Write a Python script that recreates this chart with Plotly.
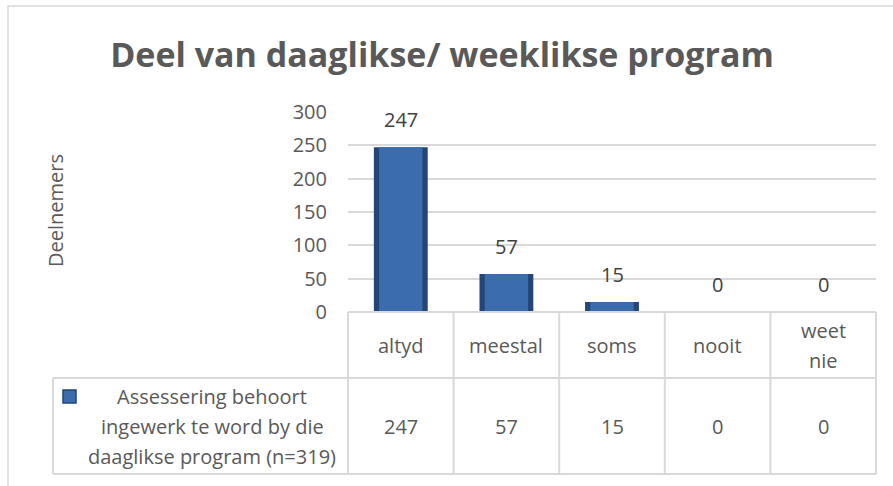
import plotly.graph_objects as go

W, H = 893, 486

categories = ["altyd", "meestal", "soms", "nooit", "weet nie"]
header_labels = [["altyd"], ["meestal"], ["soms"], ["nooit"], ["weet", "nie"]]
values = [247, 57, 15, 0, 0]
series_lines = ["Assessering behoort", "ingewerk te word by die", "daaglikse program (n=319)"]
y_ticks = [0, 50, 100, 150, 200, 250, 300]

TEXT = "#595959"
GRID = "#D9D9D9"
FONT = "Open Sans"
LINE_GAP = 30  # Excel line spacing in px

# pixel layout of the Excel-style chart
plot_l, plot_r = 348, 876
plot_t, plot_b = 112, 312
row_mid, table_b = 378, 474
legend_l = 53


def px(x):
    return x / W


def py(y):
    return 1 - y / H


def text_block(lines, x, xref, center_y):
    """One annotation per line so the line spacing follows Excel."""
    out = []
    top = center_y - LINE_GAP * (len(lines) - 1) / 2
    for k, txt in enumerate(lines):
        out.append(dict(
            x=x, y=py(top + k * LINE_GAP), xref=xref, yref="paper", text=txt,
            showarrow=False, xanchor="center", yanchor="middle",
            font=dict(size=20, color=TEXT, family=FONT),
        ))
    return out


fig = go.Figure()
fig.add_trace(go.Bar(
    x=categories, y=values, width=0.51,
    marker=dict(color="#234676", line=dict(width=0)),
    hoverinfo="skip", showlegend=False,
))
fig.add_trace(go.Bar(
    x=categories, y=values, width=0.41,
    marker=dict(color="#3B6CAE", line=dict(width=0)),
    name="Deelnemers", showlegend=False,
))

annotations = []
for cat, val in zip(categories, values):
    annotations.append(dict(
        x=cat, y=val, xref="x", yref="y", text=str(val), showarrow=False,
        xanchor="center", yanchor="bottom", yshift=12,
        font=dict(size=20, color="#404040", family=FONT),
    ))

# data table below the plot
for cat, head, val in zip(categories, header_labels, values):
    annotations += text_block(head, cat, "x", (plot_b + row_mid) / 2)
    annotations += text_block([str(val)], cat, "x", (row_mid + table_b) / 2)

annotations += text_block(series_lines, px(212), "paper", 426)
annotations.append(dict(
    x=px(55), y=py(211), xref="paper", yref="paper", text="Deelnemers",
    textangle=-90, showarrow=False, xanchor="center", yanchor="middle",
    font=dict(size=20, color=TEXT, family=FONT),
))

line = dict(color=GRID, width=2)
shapes = [
    # outer chart border
    dict(type="rect", xref="paper", yref="paper", x0=px(8), x1=px(905),
         y0=py(6), y1=py(500), line=dict(color=GRID, width=1.5)),
    # table grid
    dict(type="line", xref="paper", yref="paper", x0=px(plot_l), x1=px(plot_r),
         y0=py(plot_b), y1=py(plot_b), line=line),
    dict(type="line", xref="paper", yref="paper", x0=px(legend_l), x1=px(plot_r),
         y0=py(row_mid), y1=py(row_mid), line=line),
    dict(type="line", xref="paper", yref="paper", x0=px(legend_l), x1=px(plot_r),
         y0=py(table_b), y1=py(table_b), line=line),
    dict(type="line", xref="paper", yref="paper", x0=px(legend_l), x1=px(legend_l),
         y0=py(row_mid), y1=py(table_b), line=line),
    # legend key
    dict(type="rect", xref="paper", yref="paper", x0=px(63), x1=px(76),
         y0=py(390), y1=py(403), fillcolor="#3B6CAE", line=dict(color="#234676", width=1.5)),
]
n = len(categories)
for i in range(n + 1):
    xx = plot_l + (plot_r - plot_l) * i / n
    shapes.append(dict(type="line", xref="paper", yref="paper", x0=px(xx), x1=px(xx),
                       y0=py(plot_b), y1=py(table_b), line=line))

fig.update_layout(
    width=W, height=H,
    margin=dict(l=0, r=0, t=0, b=0, autoexpand=False),
    paper_bgcolor="white", plot_bgcolor="white",
    barmode="overlay",
    title=dict(text="<b>Deel van daaglikse/ weeklikse program</b>",
               x=0.495, xanchor="center", y=py(55), yanchor="middle",
               font=dict(size=34, color=TEXT, family=FONT)),
    xaxis=dict(domain=[px(plot_l), px(plot_r)], showticklabels=False, showgrid=False,
               zeroline=False, showline=False, ticks="", automargin=False),
    yaxis=dict(domain=[py(plot_b), py(plot_t)], range=[0, 300], tickvals=y_ticks,
               showgrid=True, gridcolor=GRID, gridwidth=1.5, zeroline=False, showline=False,
               ticks="", ticklabelstandoff=20, automargin=False,
               tickfont=dict(size=20, color=TEXT, family=FONT)),
    annotations=annotations,
    shapes=shapes,
)

# the page body has a default 8px margin; drop it so the figure fills the window
fig.write_html("out.html", config={"displayModeBar": False},
               post_script="document.body.style.margin='0';")
